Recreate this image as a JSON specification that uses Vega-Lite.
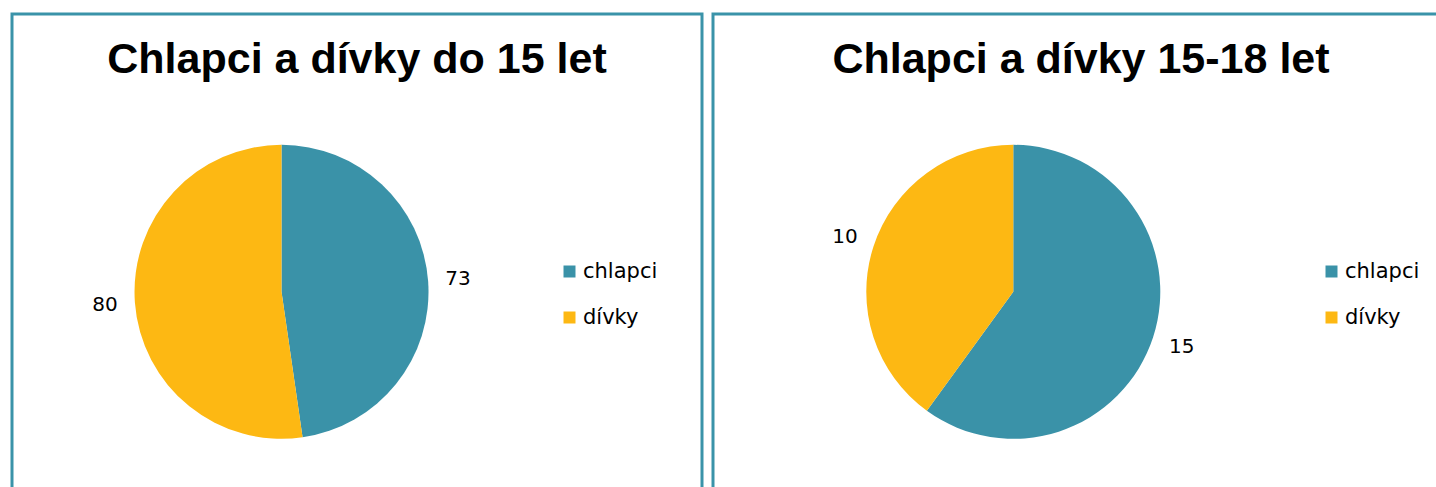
{
  "$schema": "https://vega.github.io/schema/vega-lite/v6.json",
  "padding": {"left": 10, "top": 12, "right": 0, "bottom": 0},
  "spacing": 7,
  "config": {
    "view": {"stroke": "#3A93A9", "strokeWidth": 3},
    "font": "DejaVu Sans"
  },
  "resolve": {"scale": {"color": "independent", "x": "independent", "y": "independent"}, "legend": {"color": "independent"}},
  "hconcat": [
    {
      "width": 690,
      "height": 490,
      "encoding": {
        "x": {"datum": 0.3906, "type": "quantitative", "scale": {"domain": [0, 1]}, "axis": null},
        "y": {"datum": 0.433, "type": "quantitative", "scale": {"domain": [0, 1]}, "axis": null}
      },
      "layer": [
        {
          "data": {"values": [{"pohlavi": "chlapci", "pocet": 73}, {"pohlavi": "dívky", "pocet": 80}]},
          "mark": {"type": "arc", "outerRadius": 147},
          "encoding": {
            "theta": {"field": "pocet", "type": "quantitative", "stack": true},
            "order": {"field": "pohlavi", "sort": "ascending"},
            "color": {"field": "pohlavi", "type": "nominal", "scale": {"domain": ["chlapci", "dívky"], "range": ["#3A92A8", "#FDB813"]},
              "legend": {"title": null, "orient": "none", "legendX": 547, "legendY": 247, "symbolType": "square", "symbolSize": 144, "symbolStrokeWidth": 0, "labelFontSize": 21, "labelFont": "DejaVu Sans", "labelColor": "#000000", "rowPadding": 24, "labelOffset": 3, "padding": 0}}
          }
        },
        {
          "data": {"values": [{"pohlavi": "chlapci", "pocet": 73}, {"pohlavi": "dívky", "pocet": 80}]},
          "mark": {"type": "text", "radius": 177, "fontSize": 20, "color": "#000000"},
          "encoding": {
            "theta": {"field": "pocet", "type": "quantitative", "stack": true},
            "order": {"field": "pohlavi", "sort": "ascending"},
            "text": {"field": "pocet", "type": "quantitative"}
          }
        },
        {
          "data": {"values": [{"nadpis": "Chlapci a dívky do 15 let"}]},
          "mark": {"type": "text", "fontSize": 43, "font": "Liberation Sans", "fontWeight": "bold", "color": "#000000", "baseline": "alphabetic", "align": "center"},
          "encoding": {
            "x": {"datum": 0.5, "type": "quantitative"},
            "y": {"datum": 0.8786, "type": "quantitative"},
            "text": {"field": "nadpis", "type": "nominal"}
          }
        }
      ]
    },
    {
      "width": 736,
      "height": 490,
      "encoding": {
        "x": {"datum": 0.408, "type": "quantitative", "scale": {"domain": [0, 1]}, "axis": null},
        "y": {"datum": 0.433, "type": "quantitative", "scale": {"domain": [0, 1]}, "axis": null}
      },
      "layer": [
        {
          "data": {"values": [{"pohlavi": "chlapci", "pocet": 15}, {"pohlavi": "dívky", "pocet": 10}]},
          "mark": {"type": "arc", "outerRadius": 147},
          "encoding": {
            "theta": {"field": "pocet", "type": "quantitative", "stack": true},
            "order": {"field": "pohlavi", "sort": "ascending"},
            "color": {"field": "pohlavi", "type": "nominal", "scale": {"domain": ["chlapci", "dívky"], "range": ["#3A92A8", "#FDB813"]},
              "legend": {"title": null, "orient": "none", "legendX": 608, "legendY": 247, "symbolType": "square", "symbolSize": 144, "symbolStrokeWidth": 0, "labelFontSize": 21, "labelFont": "DejaVu Sans", "labelColor": "#000000", "rowPadding": 24, "labelOffset": 3, "padding": 0}}
          }
        },
        {
          "data": {"values": [{"pohlavi": "chlapci", "pocet": 15}, {"pohlavi": "dívky", "pocet": 10}]},
          "mark": {"type": "text", "radius": 177, "fontSize": 20, "color": "#000000"},
          "encoding": {
            "theta": {"field": "pocet", "type": "quantitative", "stack": true},
            "order": {"field": "pohlavi", "sort": "ascending"},
            "text": {"field": "pocet", "type": "quantitative"}
          }
        },
        {
          "data": {"values": [{"nadpis": "Chlapci a dívky 15-18 let"}]},
          "mark": {"type": "text", "fontSize": 43, "font": "Liberation Sans", "fontWeight": "bold", "color": "#000000", "baseline": "alphabetic", "align": "center"},
          "encoding": {
            "x": {"datum": 0.5, "type": "quantitative"},
            "y": {"datum": 0.8786, "type": "quantitative"},
            "text": {"field": "nadpis", "type": "nominal"}
          }
        }
      ]
    }
  ]
}
